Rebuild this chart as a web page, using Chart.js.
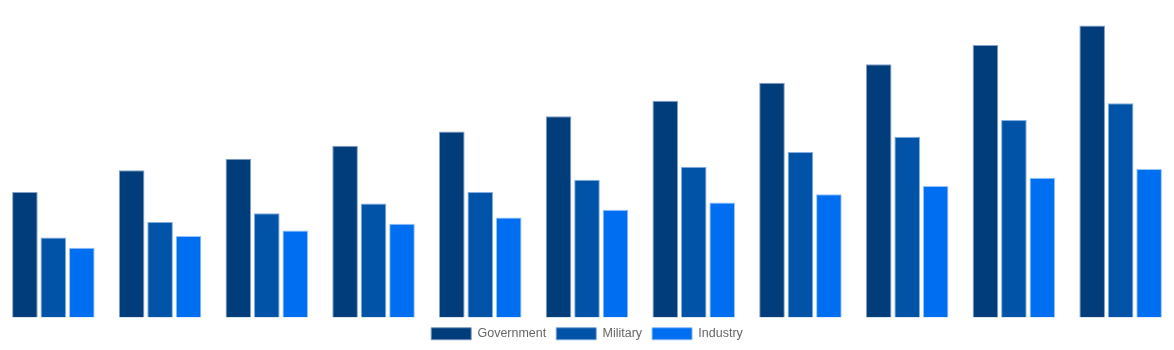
<!DOCTYPE html>
<html>
<head>
<meta charset="utf-8">
<script src="https://cdn.jsdelivr.net/npm/chart.js@4/dist/chart.umd.min.js"></script>
<style>
  html, body { margin: 0; padding: 0; background: #ffffff; }
  #wrap { width: 1174px; height: 350px; position: relative; }
</style>
</head>
<body>
<div id="wrap"><canvas id="chart"></canvas></div>
<script>
// Yearly categories (the category axis itself is not displayed)
const years = ['2014', '2015', '2016', '2017', '2018', '2019', '2020', '2021', '2022', '2023', '2024'];

// Spending by sector
const government = [395, 464, 500, 541, 586, 634, 683, 739, 798, 858, 920];
const military   = [252, 301, 328, 359, 395, 434, 475, 521, 569, 622, 675];
const industry   = [220, 257, 274, 295, 315, 339, 362, 388, 414, 440, 468];

const seriesNames = ['Government', 'Military', 'Industry'];
const seriesColors = ['#023d7b', '#0053a6', '#006ef0'];
const seriesBorders = ['rgba(120,150,190,0.9)', 'rgba(120,165,220,0.9)', 'rgba(140,190,250,0.9)'];

const chart = new Chart(document.getElementById('chart'), {
  type: 'bar',
  data: {
    labels: years,
    datasets: [government, military, industry].map((values, i) => ({
      label: seriesNames[i],
      data: values,
      backgroundColor: seriesColors[i],
      borderColor: seriesBorders[i],
      borderWidth: 1
    }))
  },
  options: {
    responsive: true,
    maintainAspectRatio: false,
    animation: false,
    layout: { padding: 0 },
    scales: {
      x: { display: false },
      y: { display: false, min: 0, max: 1000 }
    },
    plugins: {
      tooltip: { enabled: false },
      legend: {
        position: 'bottom',
        labels: {
          color: '#666666',
          boxWidth: 40,
          boxHeight: 12,
          font: { family: 'Liberation Sans, Arial, sans-serif', size: 12.5 }
        }
      }
    }
  }
});
</script>
</body>
</html>
